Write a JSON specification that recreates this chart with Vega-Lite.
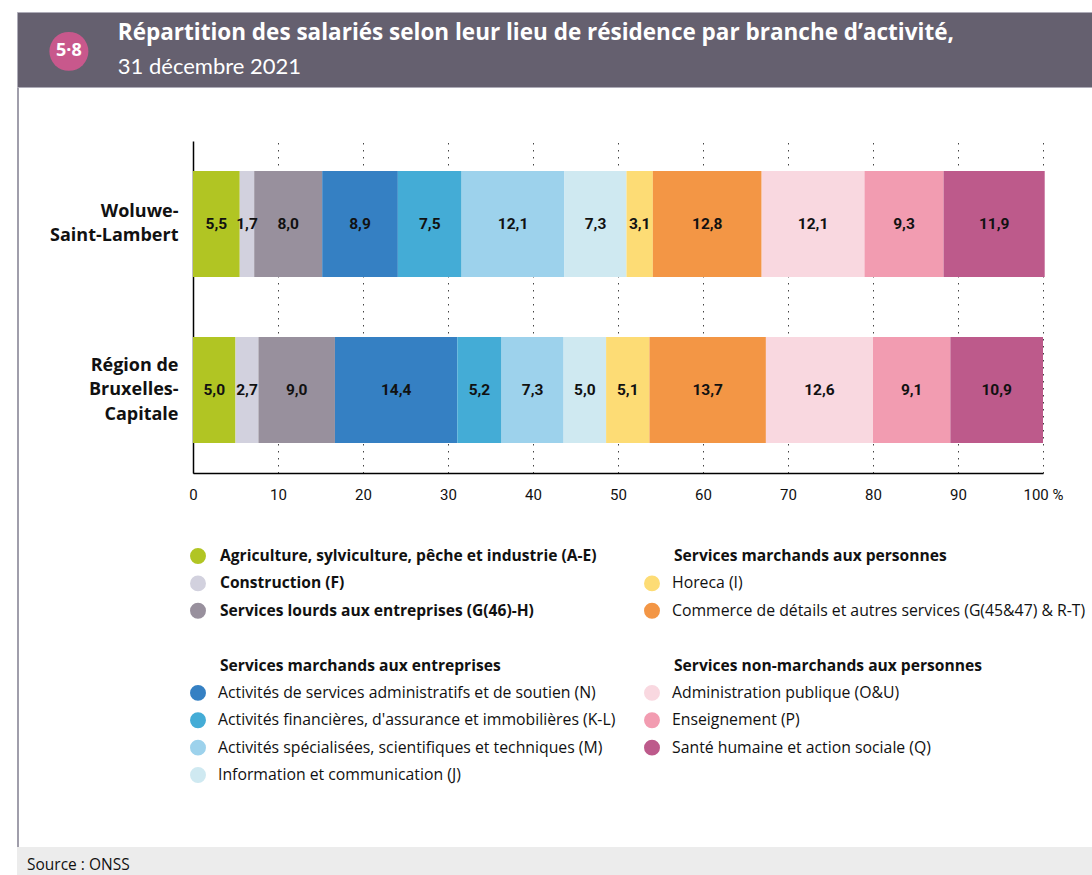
{
  "$schema": "https://vega.github.io/schema/vega-lite/v6.json",
  "padding": {"left": 15, "top": 11, "right": 0, "bottom": 0},
  "spacing": 0,
  "background": "#ffffff",
  "config": {
    "view": {"stroke": null},
    "concat": {"spacing": 0},
    "locale": {"number": {"decimal": ",", "thousands": "\u00a0", "grouping": [3], "currency": ["", "\u00a0€"]}}
  },
  "datasets": {
    "bars": [
      {"loc": "Woluwe-Saint-Lambert", "order": 1, "cat": "Agriculture, sylviculture, pêche et industrie (A-E)", "value": 5.5},
      {"loc": "Woluwe-Saint-Lambert", "order": 2, "cat": "Construction (F)", "value": 1.7},
      {"loc": "Woluwe-Saint-Lambert", "order": 3, "cat": "Services lourds aux entreprises (G(46)-H)", "value": 8.0},
      {"loc": "Woluwe-Saint-Lambert", "order": 4, "cat": "Activités de services administratifs et de soutien (N)", "value": 8.9},
      {"loc": "Woluwe-Saint-Lambert", "order": 5, "cat": "Activités financières, d'assurance et immobilières (K-L)", "value": 7.5},
      {"loc": "Woluwe-Saint-Lambert", "order": 6, "cat": "Activités spécialisées, scientifiques et techniques (M)", "value": 12.1},
      {"loc": "Woluwe-Saint-Lambert", "order": 7, "cat": "Information et communication (J)", "value": 7.3},
      {"loc": "Woluwe-Saint-Lambert", "order": 8, "cat": "Horeca (I)", "value": 3.1},
      {"loc": "Woluwe-Saint-Lambert", "order": 9, "cat": "Commerce de détails et autres services (G(45&47) & R-T)", "value": 12.8},
      {"loc": "Woluwe-Saint-Lambert", "order": 10, "cat": "Administration publique (O&U)", "value": 12.1},
      {"loc": "Woluwe-Saint-Lambert", "order": 11, "cat": "Enseignement (P)", "value": 9.3},
      {"loc": "Woluwe-Saint-Lambert", "order": 12, "cat": "Santé humaine et action sociale (Q)", "value": 11.9},
      {"loc": "Région de Bruxelles-Capitale", "order": 1, "cat": "Agriculture, sylviculture, pêche et industrie (A-E)", "value": 5.0},
      {"loc": "Région de Bruxelles-Capitale", "order": 2, "cat": "Construction (F)", "value": 2.7},
      {"loc": "Région de Bruxelles-Capitale", "order": 3, "cat": "Services lourds aux entreprises (G(46)-H)", "value": 9.0},
      {"loc": "Région de Bruxelles-Capitale", "order": 4, "cat": "Activités de services administratifs et de soutien (N)", "value": 14.4},
      {"loc": "Région de Bruxelles-Capitale", "order": 5, "cat": "Activités financières, d'assurance et immobilières (K-L)", "value": 5.2},
      {"loc": "Région de Bruxelles-Capitale", "order": 6, "cat": "Activités spécialisées, scientifiques et techniques (M)", "value": 7.3},
      {"loc": "Région de Bruxelles-Capitale", "order": 7, "cat": "Information et communication (J)", "value": 5.0},
      {"loc": "Région de Bruxelles-Capitale", "order": 8, "cat": "Horeca (I)", "value": 5.1},
      {"loc": "Région de Bruxelles-Capitale", "order": 9, "cat": "Commerce de détails et autres services (G(45&47) & R-T)", "value": 13.7},
      {"loc": "Région de Bruxelles-Capitale", "order": 10, "cat": "Administration publique (O&U)", "value": 12.6},
      {"loc": "Région de Bruxelles-Capitale", "order": 11, "cat": "Enseignement (P)", "value": 9.1},
      {"loc": "Région de Bruxelles-Capitale", "order": 12, "cat": "Santé humaine et action sociale (Q)", "value": 10.9}
    ],
    "legend": [
      {"col": 1, "row": 0, "kind": "item", "weight": "bold", "label": "Agriculture, sylviculture, pêche et industrie (A-E)"},
      {"col": 1, "row": 1, "kind": "item", "weight": "bold", "label": "Construction (F)"},
      {"col": 1, "row": 2, "kind": "item", "weight": "bold", "label": "Services lourds aux entreprises (G(46)-H)"},
      {"col": 1, "row": 4, "kind": "header", "weight": "bold", "label": "Services marchands aux entreprises"},
      {"col": 1, "row": 5, "kind": "item", "weight": "normal", "label": "Activités de services administratifs et de soutien (N)"},
      {"col": 1, "row": 6, "kind": "item", "weight": "normal", "label": "Activités financières, d'assurance et immobilières (K-L)"},
      {"col": 1, "row": 7, "kind": "item", "weight": "normal", "label": "Activités spécialisées, scientifiques et techniques (M)"},
      {"col": 1, "row": 8, "kind": "item", "weight": "normal", "label": "Information et communication (J)"},
      {"col": 2, "row": 0, "kind": "header", "weight": "bold", "label": "Services marchands aux personnes"},
      {"col": 2, "row": 1, "kind": "item", "weight": "normal", "label": "Horeca (I)"},
      {"col": 2, "row": 2, "kind": "item", "weight": "normal", "label": "Commerce de détails et autres services (G(45&47) & R-T)"},
      {"col": 2, "row": 4, "kind": "header", "weight": "bold", "label": "Services non-marchands aux personnes"},
      {"col": 2, "row": 5, "kind": "item", "weight": "normal", "label": "Administration publique (O&U)"},
      {"col": 2, "row": 6, "kind": "item", "weight": "normal", "label": "Enseignement (P)"},
      {"col": 2, "row": 7, "kind": "item", "weight": "normal", "label": "Santé humaine et action sociale (Q)"}
    ]
  },
  "vconcat": [
    {
      "width": 1077,
      "height": 75,
      "view": {"fill": "#65606f", "stroke": "#aeacb8", "strokeWidth": 1},
      "data": {"values": [{"t": "Répartition des salariés selon leur lieu de résidence par branche d’activité,", "s": "31 décembre 2021", "n": "5·8"}]},
      "layer": [
        {
          "mark": {"type": "point", "filled": true, "size": 1520, "color": "#c8588c", "opacity": 1},
          "encoding": {
            "x": {"datum": 53, "type": "quantitative", "scale": {"domain": [0, 1077]}, "axis": null},
            "y": {"datum": 42, "type": "quantitative", "scale": {"domain": [0, 75], "reverse": true}, "axis": null}
          }
        },
        {
          "mark": {"type": "text", "font": "Open Sans", "fontWeight": "bold", "fontSize": 18, "color": "#ffffff", "align": "center", "baseline": "middle"},
          "encoding": {
            "x": {"datum": 53, "type": "quantitative"},
            "y": {"datum": 42, "type": "quantitative"},
            "text": {"field": "n"}
          }
        },
        {
          "mark": {"type": "text", "font": "Open Sans", "fontWeight": "bold", "fontSize": 22.5, "color": "#ffffff", "align": "left", "baseline": "alphabetic"},
          "encoding": {
            "x": {"datum": 103, "type": "quantitative"},
            "y": {"datum": 30, "type": "quantitative"},
            "text": {"field": "t"}
          }
        },
        {
          "mark": {"type": "text", "font": "Lato", "fontSize": 22, "color": "#ffffff", "align": "left", "baseline": "alphabetic"},
          "encoding": {
            "x": {"datum": 103, "type": "quantitative"},
            "y": {"datum": 66, "type": "quantitative"},
            "text": {"field": "s"}
          }
        }
      ]
    },
    {
      "hconcat": [
        {
          "width": 2,
          "height": 759,
          "view": {"fill": "#a09eab", "stroke": null},
          "data": {"values": [{}]},
          "mark": {"type": "point", "opacity": 0}
        },
        {
          "vconcat": [
            {
              "width": 1,
              "height": 53,
              "data": {"values": [{}]},
              "mark": {"type": "point", "opacity": 0}
            },
            {
              "width": 850,
              "height": 332,
              "data": {"name": "bars"},
              "encoding": {
                "y": {
                  "field": "loc",
                  "type": "nominal",
                  "sort": ["Woluwe-Saint-Lambert", "Région de Bruxelles-Capitale"],
                  "scale": {"paddingInner": 0.36, "paddingOuter": 0.18},
                  "axis": {
                    "title": null,
                    "domain": true,
                    "domainColor": "#000000",
                    "domainWidth": 1.5,
                    "ticks": false,
                    "grid": false,
                    "labelFont": "Open Sans",
                    "labelFontWeight": "bold",
                    "labelFontSize": 18,
                    "labelColor": "#111111",
                    "labelPadding": 15,
                    "labelLineHeight": 24.5,
                    "labelLimit": 300,
                    "labelOffset": {"condition": {"test": "datum.value == 'Woluwe-Saint-Lambert'", "value": -12.5}, "value": -24.5},
                    "labelExpr": "datum.value == 'Woluwe-Saint-Lambert' ? ['Woluwe-', 'Saint-Lambert'] : ['Région de', 'Bruxelles-', 'Capitale']",
                    "minExtent": 172,
                    "maxExtent": 172
                  }
                }
              },
              "layer": [
                {
                  "mark": {"type": "bar"},
                  "encoding": {
                    "x": {
                      "field": "value",
                      "type": "quantitative",
                      "stack": "zero",
                      "scale": {"domain": [0, 100], "nice": false},
                      "axis": {
                        "title": null,
                        "values": [0, 10, 20, 30, 40, 50, 60, 70, 80, 90, 100],
                        "grid": true,
                        "gridDash": [1.5, 5.5],
                        "gridColor": "#444444",
                        "gridWidth": 1,
                        "ticks": false,
                        "domainColor": "#000000",
                        "domainWidth": 1.5,
                        "labelFont": "Roboto",
                        "labelFontSize": 15,
                        "labelColor": "#111111",
                        "labelPadding": 14,
                        "labelFlush": false,
                        "labelExpr": "datum.value == 100 ? '\u00a0\u00a0\u00a0100 %' : datum.label"
                      }
                    },
                    "color": {
                      "field": "cat",
                      "type": "nominal",
                      "legend": null,
                      "scale": {
                        "domain": [
                          "Agriculture, sylviculture, pêche et industrie (A-E)",
                          "Construction (F)",
                          "Services lourds aux entreprises (G(46)-H)",
                          "Activités de services administratifs et de soutien (N)",
                          "Activités financières, d'assurance et immobilières (K-L)",
                          "Activités spécialisées, scientifiques et techniques (M)",
                          "Information et communication (J)",
                          "Horeca (I)",
                          "Commerce de détails et autres services (G(45&47) & R-T)",
                          "Administration publique (O&U)",
                          "Enseignement (P)",
                          "Santé humaine et action sociale (Q)"
                        ],
                        "range": ["#b1c523", "#d2d1de", "#98909d", "#3580c3", "#44acd6", "#9dd2ec", "#cfe9f1", "#fddc75", "#f39645", "#f9d8e0", "#f29cb1", "#bd5a8b"]
                      }
                    },
                    "order": {"field": "order", "type": "quantitative"}
                  }
                },
                {
                  "mark": {"type": "text", "font": "Roboto", "fontWeight": "bold", "fontSize": 15.5, "color": "#111111", "align": "center", "baseline": "middle"},
                  "encoding": {
                    "x": {"field": "value", "type": "quantitative", "stack": "zero", "bandPosition": 0.5},
                    "text": {"field": "value", "type": "quantitative", "format": ".1f"},
                    "order": {"field": "order", "type": "quantitative"}
                  }
                }
              ]
            },
            {
              "width": 1,
              "height": 42,
              "data": {"values": [{}]},
              "mark": {"type": "point", "opacity": 0}
            },
            {
              "width": 880,
              "height": 240,
              "data": {"name": "legend"},
              "encoding": {
                "x": {"field": "col", "type": "ordinal", "scale": {"type": "point", "range": [5, 459], "padding": 0}, "axis": null},
                "y": {"field": "row", "type": "quantitative", "scale": {"domain": [0, 8], "range": [12, 231]}, "axis": null}
              },
              "layer": [
                {
                  "transform": [{"filter": "datum.kind == 'item'"}],
                  "mark": {"type": "point", "filled": true, "size": 254, "opacity": 1},
                  "encoding": {
                    "color": {
                      "field": "label",
                      "type": "nominal",
                      "legend": null,
                      "scale": {
                        "domain": [
                          "Agriculture, sylviculture, pêche et industrie (A-E)",
                          "Construction (F)",
                          "Services lourds aux entreprises (G(46)-H)",
                          "Activités de services administratifs et de soutien (N)",
                          "Activités financières, d'assurance et immobilières (K-L)",
                          "Activités spécialisées, scientifiques et techniques (M)",
                          "Information et communication (J)",
                          "Horeca (I)",
                          "Commerce de détails et autres services (G(45&47) & R-T)",
                          "Administration publique (O&U)",
                          "Enseignement (P)",
                          "Santé humaine et action sociale (Q)"
                        ],
                        "range": ["#b1c523", "#d2d1de", "#98909d", "#3580c3", "#44acd6", "#9dd2ec", "#cfe9f1", "#fddc75", "#f39645", "#f9d8e0", "#f29cb1", "#bd5a8b"]
                      }
                    }
                  }
                },
                {
                  "transform": [{"filter": "datum.weight == 'bold'"}],
                  "mark": {"type": "text", "font": "Open Sans", "fontWeight": "bold", "fontSize": 15.6, "color": "#111111", "align": "left", "baseline": "middle", "dx": 22},
                  "encoding": {"text": {"field": "label"}}
                },
                {
                  "transform": [{"filter": "datum.weight == 'normal'"}],
                  "mark": {"type": "text", "font": "Open Sans", "fontSize": 15.8, "color": "#111111", "align": "left", "baseline": "middle", "dx": 20},
                  "encoding": {"text": {"field": "label"}}
                }
              ]
            }
          ]
        }
      ]
    },
    {
      "width": 1077,
      "height": 30,
      "view": {"fill": "#ececec", "stroke": null},
      "data": {"values": [{"src": "Source : ONSS"}]},
      "mark": {"type": "text", "font": "Open Sans", "fontSize": 15.5, "color": "#111111", "align": "left", "baseline": "middle"},
      "encoding": {
        "x": {"datum": 10, "type": "quantitative", "scale": {"domain": [0, 1077]}, "axis": null},
        "y": {"datum": 18, "type": "quantitative", "scale": {"domain": [0, 30], "reverse": true}, "axis": null},
        "text": {"field": "src"}
      }
    }
  ]
}
